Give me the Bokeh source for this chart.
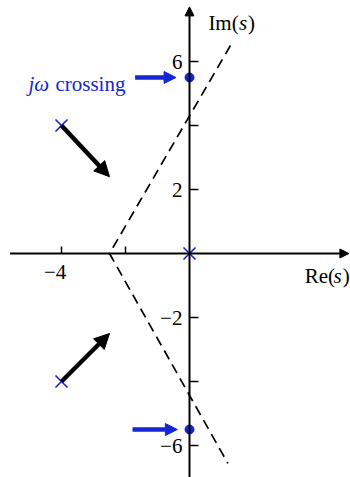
from bokeh.plotting import figure
from bokeh.models import Arrow, NormalHead
from bokeh.embed import file_html
from bokeh.resources import INLINE

# Open-loop poles of the system (marked with crosses)
pole_re = [0.0, -4.0, -4.0]
pole_im = [0.0, 4.0, -4.0]

# Imaginary-axis crossings of the root locus
cross_re = [0.0, 0.0]
cross_im = [5.5, -5.5]

# Asymptotes: from the far end above, through the centroid, to the far end below
asym_re = [1.28, -2.5, 1.2]
asym_im = [6.5, 0.0, -6.56]

# Direction-of-travel arrows for the complex branches
branch_start_re = [-4.0, -4.0]
branch_start_im = [4.0, -4.0]
branch_end_re = [-2.5, -2.5]
branch_end_im = [2.4, -2.5]

# Pointer arrows toward the jw crossings
pointer_start_re = [-1.7, -1.78]
pointer_end_re = [-0.42, -0.38]

# Axis ticks and labels
im_ticks = [-6, -4, -2, 2, 4, 6]
im_tick_labels = {6: "6", 2: "2", -2: "\u22122", -6: "\u22126"}
re_ticks = [-4, -2]
re_tick_labels = {-4: "\u22124"}

BLUE = "#1426d4"
SERIF = "Liberation Serif"

X0, X1 = -189 / 32, 161 / 32
Y0, Y1 = -224 / 32, 253 / 32

p = figure(width=350, height=477, x_range=(X0, X1), y_range=(Y0, Y1),
           output_backend="svg", toolbar_location=None, min_border=0,
           background_fill_color="white", border_fill_color="white")
p.axis.visible = False
p.grid.visible = False
p.outline_line_color = None

# Coordinate axes crossing at the origin
p.add_layout(Arrow(x_start=X0 + 0.3, y_start=0, x_end=X1 - 0.05, y_end=0,
                   line_width=2, line_color="black",
                   end=NormalHead(size=9, fill_color="black", line_color="black")))
p.add_layout(Arrow(x_start=0, y_start=Y0, x_end=0, y_end=Y1 - 0.2,
                   line_width=2, line_color="black",
                   end=NormalHead(size=9, fill_color="black", line_color="black")))

# Tick marks
tick_len = 0.28
p.segment(x0=[0] * len(im_ticks), y0=im_ticks,
          x1=[tick_len] * len(im_ticks), y1=im_ticks,
          line_color="black", line_width=1.5)
p.segment(x0=re_ticks, y0=[0] * len(re_ticks),
          x1=re_ticks, y1=[0.22] * len(re_ticks),
          line_color="black", line_width=1.5)

# Tick labels
lab_y = list(im_tick_labels.keys())
p.text(x=[-0.22] * len(lab_y), y=lab_y, text=list(im_tick_labels.values()),
       text_font=SERIF, text_font_size="21px", text_align="right",
       text_baseline="middle", text_color="black")
lab_x = list(re_tick_labels.keys())
p.text(x=[v - 0.2 for v in lab_x], y=[-0.36] * len(lab_x),
       text=list(re_tick_labels.values()),
       text_font=SERIF, text_font_size="21px", text_align="center",
       text_baseline="top", text_color="black")

# Axis titles: Im(s) and Re(s), with italic s
p.text(x=[0.59], y=[7.2], text=["Im("], text_font=SERIF, text_font_size="21px",
       text_baseline="alphabetic", text_align="left", text_color="black")
p.text(x=[1.55], y=[7.2], text=["s"], text_font=SERIF, text_font_size="21px",
       text_font_style="italic", text_baseline="alphabetic", text_align="left",
       text_color="black")
p.text(x=[1.83], y=[7.2], text=[")"], text_font=SERIF, text_font_size="21px",
       text_baseline="alphabetic", text_align="left", text_color="black")

p.text(x=[3.6], y=[-0.7], text=["Re("], text_font=SERIF, text_font_size="21px",
       text_baseline="alphabetic", text_align="left", text_color="black")
p.text(x=[4.5], y=[-0.7], text=["s"], text_font=SERIF, text_font_size="21px",
       text_font_style="italic", text_baseline="alphabetic", text_align="left",
       text_color="black")
p.text(x=[4.79], y=[-0.7], text=[")"], text_font=SERIF, text_font_size="21px",
       text_baseline="alphabetic", text_align="left", text_color="black")

# Asymptotes
p.line(asym_re, asym_im, line_color="black", line_width=1.7, line_dash="10 6")

# Branch direction arrows
for xs, ys, xe, ye in zip(branch_start_re, branch_start_im, branch_end_re, branch_end_im):
    p.add_layout(Arrow(x_start=xs, y_start=ys, x_end=xe, y_end=ye,
                       line_width=4.5, line_color="black",
                       end=NormalHead(size=15, fill_color="black", line_color="black")))

# Poles
p.scatter(pole_re, pole_im, marker="x", size=17, line_color=BLUE, line_width=1.6)

# jw crossings
p.scatter(cross_re, cross_im, marker="circle", size=9, fill_color=BLUE,
          line_color=BLUE)

for xs, xe, y in zip(pointer_start_re, pointer_end_re, cross_im):
    p.add_layout(Arrow(x_start=xs, y_start=y, x_end=xe, y_end=y,
                       line_width=4.5, line_color=BLUE,
                       end=NormalHead(size=12, fill_color=BLUE, line_color=BLUE)))

# Annotation text for the crossing
p.text(x=[-5.03], y=[5.3], text=["j\u03c9"], text_font=SERIF, text_font_size="21px",
       text_font_style="italic", text_baseline="alphabetic", text_align="left",
       text_color=BLUE)
p.text(x=[-4.19], y=[5.3], text=["crossing"], text_font=SERIF, text_font_size="21px",
       text_baseline="alphabetic", text_align="left", text_color=BLUE)

open("out.html", "w").write(file_html(p, INLINE))
